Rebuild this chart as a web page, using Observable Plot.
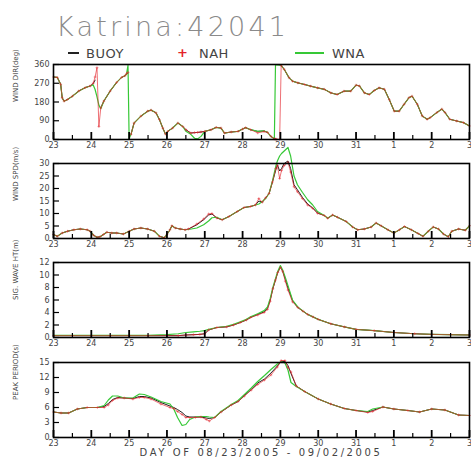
<!DOCTYPE html>
<html><head><meta charset="utf-8">
<script src="https://cdn.jsdelivr.net/npm/d3@7"></script>
<script src="https://cdn.jsdelivr.net/npm/@observablehq/plot@0.6"></script>
<style>
body{margin:0;background:#fff;}
#wrap{position:relative;width:471px;height:475px;overflow:hidden;font-family:"DejaVu Sans",sans-serif;background:#fff;}
.abs{position:absolute;white-space:nowrap;}
</style></head><body><div id="wrap"></div>
<script>
// ---- axis ticks ----
const dayTicks = [23,24,25,26,27,28,29,30,31,32,33,34];
const dayLabels = ["23","24","25","26","27","28","29","30","31","1","2","3"];
const halfTicks = [23.5,24.5,25.5,26.5,27.5,28.5,29.5,30.5,31.5,32.5,33.5];

// ---- panel 1: wind direction (deg) ----
const dirT = [23.0,23.1,23.19,23.23,23.28,23.37,23.5,23.67,23.84,23.97,
  24.05,24.1,24.15,24.2,24.25,24.33,24.5,24.67,24.8,24.89,
  24.93,24.97,25.0,25.05,25.13,25.31,25.49,25.58,25.71,25.8,
  25.89,25.96,26.02,26.15,26.29,26.42,26.5,26.63,26.73,26.81,
  26.9,27.0,27.17,27.3,27.43,27.52,27.7,27.88,28.0,28.08,
  28.21,28.4,28.57,28.66,28.75,28.84,28.87,28.9,28.98,29.02,
  29.1,29.23,29.32,29.46,29.64,29.8,29.98,30.16,30.33,30.5,
  30.68,30.86,31.0,31.09,31.22,31.35,31.48,31.61,31.75,31.88,
  32.01,32.14,32.27,32.4,32.48,32.62,32.75,32.88,32.96,33.14,
  33.27,33.35,33.48,33.66,33.84,34.0];
const dirBuoy = [300,298,265,200,184,192,208,233,249,257,
  268,285,null,null,152,184,233,274,298,306,
  314,318,null,25,79,112,136,141,128,96,
  55,26,39,55,79,62,47,31,33,34,
  36,39,47,58,55,31,36,39,50,57,
  47,39,41,34,15,3,2,null,null,355,
  337,296,280,272,264,256,248,241,224,216,
  232,232,261,257,224,216,235,248,241,191,
  136,136,169,201,208,169,113,97,105,130,
  146,130,97,89,81,65];
const dirNah = [300,298,265,200,184,192,208,233,249,257,
  270,300,345,62,152,184,233,274,298,306,
  316,322,null,25,79,112,136,141,128,96,
  55,26,39,55,79,62,47,31,33,34,
  36,39,47,58,55,31,36,39,50,57,
  47,32,38,34,15,3,2,1,0,355,
  337,296,280,272,264,256,248,241,224,216,
  232,232,261,257,224,216,235,248,241,191,
  136,136,169,201,208,169,113,97,105,130,
  146,130,97,89,81,65];
const dirWna = [300,298,265,200,184,192,208,233,249,257,
  262,240,205,165,148,184,233,274,298,306,
  314,356,5,25,79,112,136,141,128,96,
  55,26,39,55,79,62,40,25,6,3,
  15,39,47,58,55,31,36,39,50,57,
  47,39,41,34,15,2,358,358,357,355,
  337,296,280,272,264,256,248,241,224,216,
  232,232,261,257,224,216,235,248,241,191,
  136,136,169,201,208,169,113,97,105,130,
  146,130,97,89,81,65];
const dirTicks = [0,90,180,270,360];

// ---- panel 2: wind speed (m/s) ----
const spdT = [23.0,23.1,23.23,23.37,23.54,23.71,23.89,23.97,24.06,24.15,
  24.23,24.32,24.41,24.54,24.67,24.85,25.0,25.13,25.31,25.49,
  25.67,25.8,25.93,26.0,26.08,26.13,26.22,26.35,26.48,26.57,
  26.79,26.97,27.1,27.19,27.32,27.46,27.64,27.86,28.04,28.21,
  28.34,28.43,28.52,28.61,28.7,28.79,28.88,28.92,28.98,29.03,
  29.1,29.2,29.27,29.36,29.45,29.58,29.72,29.85,29.98,30.16,
  30.25,30.38,30.51,30.74,30.91,31.04,31.22,31.4,31.53,31.66,
  31.84,32.0,32.15,32.28,32.46,32.64,32.77,32.91,33.04,33.18,
  33.31,33.44,33.53,33.71,33.89,34.0];
const spdBuoy = [1.6,0.9,2.2,2.9,3.5,3.8,3.5,2.9,1.3,0.5,
  0.7,1.6,2.5,2.2,2.2,1.8,2.9,3.8,4.2,3.8,
  2.9,0.9,0.3,1.6,3.5,5.1,4.2,3.8,3.5,3.8,
  5.5,7.5,9.4,9.8,8.2,7.5,8.8,10.8,12.4,12.8,
  13.4,15.0,14.5,16.3,18.0,22.6,27.5,29.5,27.0,28.0,
  30.0,31.0,28.0,21.5,19.5,16.5,13.8,12.3,10.2,9.2,
  8.1,9.4,8.5,6.8,4.6,3.5,3.8,4.6,6.2,5.1,
  3.5,2.2,3.5,4.8,3.5,2.0,0.9,2.9,4.6,3.8,
  1.8,0.7,2.9,3.8,3.3,5.1];
const spdNah = [1.6,0.9,2.2,2.9,3.5,3.8,3.5,2.9,1.3,0.5,
  0.7,1.6,2.5,2.2,2.2,1.8,2.9,3.8,4.2,3.8,
  2.9,0.9,0.3,1.6,3.5,5.1,4.2,3.8,3.5,3.8,
  5.8,7.8,9.8,10.0,8.2,7.5,8.8,10.8,12.4,12.8,
  13.4,16.0,14.5,16.3,18.0,22.6,28.0,29.2,24.0,27.2,
  29.2,30.5,26.6,20.7,18.7,16.0,13.4,12.1,10.1,9.2,
  8.1,9.4,8.5,6.8,4.6,3.5,3.8,4.6,6.2,5.1,
  3.5,2.2,3.5,4.8,3.5,2.0,0.9,2.9,4.6,3.8,
  1.8,0.7,2.9,3.8,3.3,5.1];
const spdWna = [1.6,0.9,2.2,2.9,3.5,3.8,3.5,2.9,1.3,0.5,
  0.7,1.6,2.5,2.2,2.2,1.8,2.9,3.8,4.2,3.8,
  2.9,0.9,0.3,1.6,3.5,5.1,4.2,3.8,3.5,3.6,
  4.2,5.5,7.0,8.3,8.5,7.5,8.8,10.8,12.4,12.8,
  13.4,13.8,14.8,16.0,18.0,23.0,29.0,31.0,33.0,34.0,
  35.0,36.4,33.0,25.0,21.5,18.5,15.5,13.5,10.8,9.2,
  8.1,9.4,8.5,6.8,4.6,3.5,3.8,4.6,6.2,5.1,
  3.5,2.2,3.5,4.8,3.5,2.0,0.9,2.9,4.6,3.8,
  1.8,0.7,2.9,3.8,3.3,5.1];
const spdTicks = [0,5,10,15,20,25,30];

// ---- panel 3: significant wave height (m) ----
const hsT = [23.0,23.5,24.0,24.5,25.0,25.5,26.0,26.3,26.5,26.7,
  26.87,27.0,27.1,27.32,27.58,27.76,27.94,28.1,28.21,28.4,
  28.57,28.66,28.73,28.8,28.87,28.93,29.0,29.06,29.13,29.2,
  29.32,29.46,29.6,29.72,29.86,30.0,30.33,30.69,31.0,31.48,
  32.0,32.55,33.0,33.5,34.0];
const hsBuoy = [0.3,0.3,0.3,0.3,0.3,0.3,0.3,0.3,0.4,0.45,
  0.5,0.6,1.2,1.6,1.7,2.0,2.4,2.8,3.2,3.7,
  4.1,4.7,6.0,7.8,9.2,10.4,11.3,10.6,9.3,7.9,
  5.9,4.8,4.2,3.7,3.3,2.9,2.2,1.7,1.3,1.1,
  0.8,0.6,0.5,0.45,0.4];
const hsNah = [0.3,0.3,0.3,0.3,0.3,0.3,0.3,0.3,0.4,0.45,
  0.5,0.6,1.2,1.6,1.7,2.0,2.4,2.8,3.2,3.6,
  4.0,4.5,5.8,7.8,9.2,10.4,11.2,10.6,9.0,7.6,
  5.7,4.8,4.2,3.7,3.3,2.9,2.2,1.7,1.3,1.1,
  0.8,0.6,0.5,0.45,0.4];
const hsWna = [0.35,0.35,0.35,0.35,0.35,0.35,0.45,0.6,0.8,0.9,
  1.0,1.1,1.3,1.6,1.8,2.1,2.5,2.9,3.3,3.8,
  4.3,4.9,6.2,8.0,9.4,10.6,11.5,10.8,9.6,8.3,
  6.0,4.9,4.2,3.7,3.3,2.9,2.2,1.7,1.3,1.1,
  0.8,0.6,0.5,0.45,0.4];
const hsTicks = [0,2,4,6,8,10,12];

// ---- panel 4: peak period (s) ----
const tpT = [23.0,23.2,23.4,23.63,23.89,24.16,24.34,24.45,24.56,24.7,
  24.87,25.1,25.27,25.4,25.58,25.84,26.08,26.18,26.28,26.4,
  26.5,26.6,26.75,26.9,27.04,27.12,27.26,27.43,27.7,27.88,
  28.05,28.23,28.4,28.58,28.75,28.92,29.02,29.12,29.2,29.28,
  29.42,29.64,30.0,30.33,30.69,31.0,31.31,31.44,31.71,32.0,
  32.37,32.68,33.0,33.35,33.71,34.0];
const tpBuoy = [5.1,4.9,4.9,5.7,6.0,6.0,6.2,6.8,7.6,8.0,
  7.9,7.8,8.2,8.2,7.9,7.0,6.3,6.0,5.6,5.0,
  4.3,4.1,4.1,4.1,3.9,3.8,4.0,5.1,6.5,7.2,
  8.4,9.6,10.9,11.7,12.9,14.3,15.2,15.2,14.4,12.8,
  10.3,9.2,7.7,6.7,5.8,5.4,5.1,5.4,6.1,5.7,
  5.4,5.1,5.7,5.5,4.5,4.4];
const tpNah = [5.1,4.9,4.9,5.7,6.0,6.0,6.0,6.5,7.4,7.9,
  7.9,7.7,8.0,8.0,7.7,6.7,6.0,5.8,5.2,4.6,
  4.0,4.0,4.0,4.1,3.6,3.3,4.0,5.1,6.5,7.2,
  8.3,9.5,10.6,11.5,12.5,14.1,15.4,15.4,14.0,13.1,
  10.3,9.2,7.7,6.7,5.8,5.4,5.0,5.2,6.1,5.7,
  5.4,5.1,5.7,5.5,4.5,4.4];
const tpWna = [5.1,4.9,4.9,5.7,6.0,6.0,6.4,7.5,8.3,8.3,
  7.9,7.9,8.7,8.6,8.1,7.2,6.7,5.7,4.0,2.4,
  2.6,3.6,4.1,4.2,4.2,4.1,4.0,5.2,6.6,7.4,
  8.6,9.9,11.2,12.4,13.6,14.7,15.2,14.9,13.5,11.0,
  10.2,9.2,7.7,6.7,5.8,5.4,5.2,5.7,6.1,5.7,
  5.4,5.1,5.7,5.5,4.5,4.4];
const tpTicks = [0,3,6,9,12,15];

// ---- text ----
const titleText = "Katrina:42041";
const legendNames = ["BUOY","NAH","WNA"];
const xTitle = "DAY OF 08/23/2005 - 09/02/2005";
const yLabels = ["WIND DIR(deg)","WIND SPD(m/s)","SIG. WAVE HT(m)","PEAK PERIOD(s)"];

const C_BUOY = "#222", C_NAH = "#e3242b", C_WNA = "#36c836";
const wrap = document.getElementById("wrap");
const W = 471, FH = 75, MT = 20, MB = 16, ML = 53, MR = 2, FW = W - ML - MR;

function panel(t, buoy, nah, wna, yDomain, yTicks, label, top) {
  const rows = s => t.map((d, i) => ({t: d, v: s[i]}));
  const B = rows(buoy), N = rows(nah), G = rows(wna);
  const svg = Plot.plot({
    width: W, height: MT + FH + MB,
    marginLeft: ML, marginRight: MR, marginTop: MT, marginBottom: MB,
    style: {background: "transparent", fontFamily: "DejaVu Sans, sans-serif", fontSize: "8px", color: "#444", overflow: "visible"},
    x: {domain: [23, 34]},
    y: {domain: yDomain},
    marks: [
      Plot.line(B, {x: "t", y: "v", stroke: C_BUOY, strokeWidth: 1}),
      Plot.line(G, {x: "t", y: "v", stroke: C_WNA, strokeWidth: 1.2}),
      Plot.line(N, {x: "t", y: "v", stroke: C_NAH, strokeWidth: 1, strokeOpacity: 0.65}),
      Plot.dot(N, {x: "t", y: "v", symbol: "plus", r: 1, stroke: C_NAH, strokeWidth: 0.6, strokeOpacity: 0.7}),
      Plot.ruleX(dayTicks, {insetTop: FH - 7, stroke: "#000", strokeWidth: 1.8}),
      Plot.ruleX(halfTicks, {insetTop: FH - 4, stroke: "#000", strokeWidth: 1.2}),
      Plot.ruleY(yTicks, {insetRight: FW - 6, stroke: "#000", strokeWidth: 1.2}),
      Plot.frame({stroke: "#000", strokeWidth: 1.6}),
      Plot.axisX({ticks: dayTicks, tickFormat: d => dayLabels[dayTicks.indexOf(d)], tickSize: 0, tickPadding: 3, label: null}),
      Plot.axisY({ticks: yTicks, tickSize: 0, tickPadding: 4, label: null}),
      Plot.text([label], {text: d => d, frameAnchor: "left", rotate: -90, dx: -38, fontSize: 7, fill: "#444"})
    ]
  });
  svg.style.position = "absolute";
  svg.style.left = "0px";
  svg.style.top = (top - MT) + "px";
  wrap.appendChild(svg);
}

function addDiv(text, css) {
  const d = document.createElement("div");
  d.className = "abs";
  d.textContent = text;
  Object.assign(d.style, css);
  wrap.appendChild(d);
  return d;
}

// title
addDiv(titleText, {left: "56px", top: "13px", fontSize: "27px", lineHeight: "27px", fontWeight: "200", color: "#8a8a8a", letterSpacing: "3.2px"});
// legend
const lg = document.createElement("div");
lg.className = "abs";
Object.assign(lg.style, {left: "0px", top: "47px", width: "471px", height: "14px"});
wrap.appendChild(lg);
function sw(left, width, color) {
  const s = document.createElement("div");
  Object.assign(s.style, {position: "absolute", left: left + "px", top: "5px", width: width + "px", height: "2px", background: color});
  lg.appendChild(s);
}
sw(68, 11, "#222");
sw(295, 29, C_WNA);
const plus = document.createElement("div");
Object.assign(plus.style, {position: "absolute", left: "177px", top: "-1px", fontSize: "13px", lineHeight: "13px", color: C_NAH, fontWeight: "bold"});
plus.textContent = "+";
lg.appendChild(plus);
[[86, legendNames[0]], [199, legendNames[1]], [332, legendNames[2]]].forEach(([x, s]) => {
  const d = document.createElement("div");
  Object.assign(d.style, {position: "absolute", left: x + "px", top: "0px", fontSize: "13px", lineHeight: "13px", color: "#444", letterSpacing: "0.5px"});
  d.textContent = s;
  lg.appendChild(d);
});

panel(dirT, dirBuoy, dirNah, dirWna, [0, 360], dirTicks, yLabels[0], 64);
panel(spdT, spdBuoy, spdNah, spdWna, [0, 30], spdTicks, yLabels[1], 163);
panel(hsT, hsBuoy, hsNah, hsWna, [0, 12], hsTicks, yLabels[2], 262);
panel(tpT, tpBuoy, tpNah, tpWna, [0, 15], tpTicks, yLabels[3], 362);

addDiv(xTitle, {left: "0px", width: "522px", textAlign: "center", top: "448px", fontSize: "10px", lineHeight: "10px", color: "#444", letterSpacing: "2.6px"});
</script></body></html>
